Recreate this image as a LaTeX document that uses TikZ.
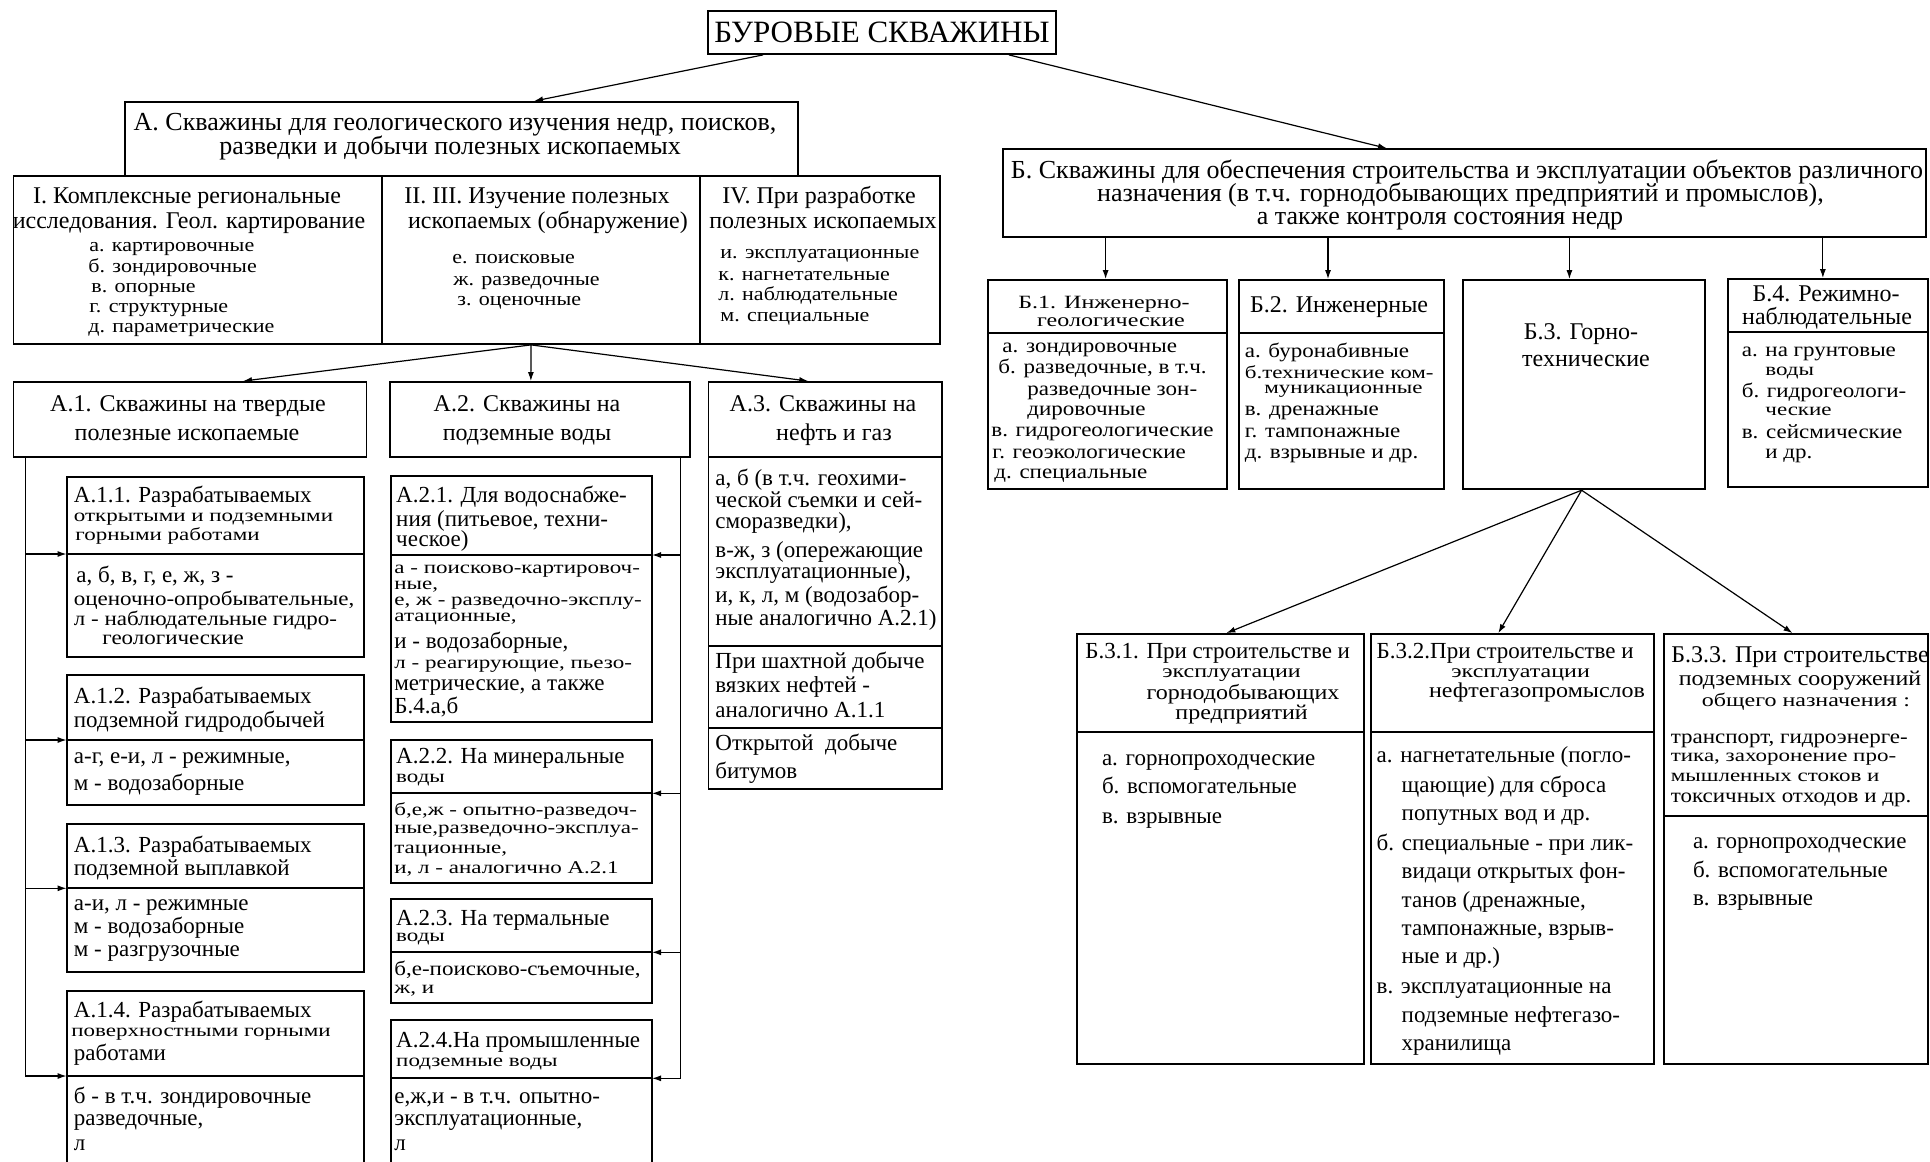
\documentclass[tikz,border=0pt]{standalone}
\usepackage{fontspec}
\usepackage{graphicx}
\setmainfont{Liberation Serif}
\usetikzlibrary{arrows.meta,fit,calc}
\tikzset{
 bx/.style={draw, line width=0.9pt, inner sep=0pt},
 ln/.style={line width=0.9pt},
 arr/.style={-{Latex[length=4.5pt,width=3pt]}, line width=0.6pt},
 ltxt/.style={anchor=base west, inner sep=0pt},
 ctxt/.style={anchor=base, inner sep=0pt},
 fbig/.style={font=\fontsize{13}{13}\selectfont},
 fhd/.style={font=\fontsize{12}{12}\selectfont},
 fbd/.style={font=\fontsize{11.5}{11.5}\selectfont},
 fsm/.style={font=\fontsize{11}{11}\selectfont},
}
\newcommand\sq[1]{\scalebox{1}[0.78]{#1}}
\newcommand\sqm[1]{\scalebox{1}[0.88]{#1}}
\newcommand\bx[5]{\path (#2,#3) coordinate (#1-nw) (#4,#5) coordinate (#1-se); \node[bx, fit=(#1-nw)(#1-se)] (#1) {};}
\newcommand\hl[3]{\draw[ln] (#1,#3) -- (#2,#3);}
\newcommand\Ltx[3][fbd]{\foreach \xx/\yy/\tx [count=\ii] in {#3} {\node[ltxt,#1,name=#2-\ii] at (\xx,\yy) {\tx};}}
\newcommand\Ctx[3][fhd]{\foreach \xx/\yy/\tx [count=\ii] in {#3} {\node[ctxt,#1,name=#2-\ii] at (\xx,\yy) {\tx};}}
\begin{document}
\begin{tikzpicture}[x=0.5pt,y=-0.5pt]
\useasboundingbox (0,0) rectangle (1930,1161);
\clip (0,0) rectangle (1930,1161);
% title
\bx{T}{708}{11}{1056}{54}
\node[ctxt,font=\fontsize{15.5}{16}\selectfont,name=Tt] at (882,43) {БУРОВЫЕ СКВАЖИНЫ};
% A
\bx{A}{125}{102}{798}{176}
\Ctx[fbig]{At}{455/130/{А. Скважины для геологического изучения недр, поисков,}, 450/155/{разведки и добычи полезных ископаемых}}
\bx{R1}{13.5}{176}{382}{344}
\bx{R2}{382}{176}{700}{344}
\bx{R4}{700}{176}{940}{344}
\Ctx{R1h}{187/203/{I. Комплексные региональные}, 189/228/{исследования. Геол. картирование}}
\Ltx[fsm]{R1l}{89/251/{\sqm{а. картировочные}}, 88/272/{\sqm{б. зондировочные}}, 91/292/{\sqm{в. опорные}}, 89/312/{\sqm{г. структурные}}, 88/332/{\sqm{д. параметрические}}}
\Ctx{R2h}{537/203/{II. III. Изучение полезных}, 548/228/{ископаемых (обнаружение)}}
\Ltx[fsm]{R2l}{452/263/{\sqm{е. поисковые}}, 453/285/{\sqm{ж. разведочные}}, 457/305/{\sqm{з. оценочные}}}
\Ctx{R4h}{819/203/{IV. При разработке}, 823/228/{полезных ископаемых}}
\Ltx[fsm]{R4l}{720/258/{\sqm{и. эксплуатационные}}, 718/280/{\sqm{к. нагнетательные}}, 718/300/{\sqm{л. наблюдательные}}, 720/321/{\sqm{м. специальные}}}
% A.1 A.2 A.3
\bx{A1}{13.5}{382}{366.5}{457}
\bx{A2}{390}{382}{689.7}{457}
\bx{A3}{708.5}{382}{942}{457}
\bx{A3b}{708.5}{457}{942}{789}
\hl{708.5}{942}{646}
\hl{708.5}{942}{728.3}
\Ctx{A1t}{188/411/{А.1. Скважины на твердые}, 187/440/{полезные ископаемые}}
\Ctx{A2t}{527/411/{А.2. Скважины на}, 527/440/{подземные воды}}
\Ctx{A3t}{823/411/{А.3. Скважины на}, 834/440/{нефть и газ}}
\Ltx{A3l}{715/485/{а, б (в т.ч. геохими-}, 715/507/{ческой съемки и сей-}, 715/528/{сморазведки),}, 715/557/{в-ж, з (опережающие}, 715/578/{эксплуатационные),}, 715/602/{и, к, л, м (водозабор-}, 715/625/{ные аналогично А.2.1)}, 715/668/{При шахтной добыче}, 715/692/{вязких нефтей -}, 715/717/{аналогично А.1.1}, 715/750/{Открытой\ \ добыче}, 715/778/{битумов}}
% A.1.x
\bx{A11}{66.6}{476.7}{364}{656.7} \hl{66.6}{364}{554}
\bx{A12}{66.6}{675}{364}{805} \hl{66.6}{364}{740}
\bx{A13}{66.6}{824}{364}{972.3} \hl{66.6}{364}{888.3}
\bx{A14}{66.6}{991}{364}{1175} \hl{66.6}{364}{1076}
\Ltx{A11t}{73.5/502/{А.1.1. Разрабатываемых}, 73.5/521/{\sq{открытыми и подземными}}, 75/540/{\sq{горными работами}}, 76/582/{а, б, в, г, е, ж, з -}, 73.5/605/{\sqm{оценочно-опробывательные,}}, 73.5/625/{\sqm{л - наблюдательные гидро-}}, 102/644/{\sqm{геологические}}}
\Ltx{A12t}{73.5/703/{А.1.2. Разрабатываемых}, 73.5/727/{подземной гидродобычей}, 73.5/763/{а-г, е-и, л - режимные,}, 73.5/790/{м - водозаборные}}
\Ltx{A13t}{73.5/852/{А.1.3. Разрабатываемых}, 73.5/875/{подземной выплавкой}, 73.5/910/{а-и, л - режимные}, 73.5/933/{м - водозаборные}, 73.5/956/{м - разгрузочные}}
\Ltx{A14t}{73.5/1017/{А.1.4. Разрабатываемых}, 71/1036/{\sq{поверхностными горными}}, 73.5/1060/{работами}, 73.5/1103/{б - в т.ч. зондировочные}, 73.5/1125/{разведочные,}, 73.5/1150/{л}}
% A.2.x
\bx{A21}{391}{476}{652}{721.7} \hl{391}{652}{555}
\bx{A22}{391}{740}{652}{883.3} \hl{391}{652}{793.3}
\bx{A23}{391}{899}{652}{1002.7} \hl{391}{652}{952.3}
\bx{A24}{391}{1020}{652}{1175} \hl{391}{652}{1078.3}
\Ltx{A21t}{395.8/502/{А.2.1. Для водоснабже-}, 395.8/526/{ния (питьевое, техни-}, 395.8/546/{ческое)}, 394/573/{\sq{а - поисково-картировоч-}}, 394/589/{\sq{ные,}}, 394/605/{\sq{е, ж - разведочно-эксплу-}}, 394/621/{\sq{атационные,}}, 394/648/{и - водозаборные,}, 394/668/{\sq{л - реагирующие, пьезо-}}, 394/690/{метрические, а также}, 394/713/{Б.4.а,б}}
\Ltx{A22t}{395.8/763/{А.2.2. На минеральные}, 395.8/782/{\sq{воды}}, 394/815/{\sq{б,е,ж - опытно-разведоч-}}, 394/833/{\sq{ные,разведочно-эксплуа-}}, 394/853/{\sq{тационные,}}, 394/873/{\sq{и, л - аналогично А.2.1}}}
\Ltx{A23t}{395.8/925/{А.2.3. На термальные}, 395.8/941/{\sq{воды}}, 394/975/{\sqm{б,е-поисково-съемочные,}}, 394/993/{\sq{ж, и}}}
\Ltx{A24t}{395.8/1047/{А.2.4.На промышленные}, 395.8/1066/{\sq{подземные воды}}, 394/1103/{е,ж,и - в т.ч. опытно-}, 394/1125/{эксплуатационные,}, 394/1150/{л}}
% B
\bx{B}{1003}{149.3}{1926}{236.7}
\Ctx[fbig]{Bt}{1467/178/{Б. Скважины для обеспечения строительства и эксплуатации объектов различного}, 1460.5/201/{назначения (в т.ч. горнодобывающих предприятий и промыслов),}, 1440/224/{а также контроля состояния недр}}
\bx{B1}{988}{280}{1226.6}{489.3} \hl{988}{1226.6}{333.3}
\bx{B2}{1239}{280}{1443.6}{489.3} \hl{1239}{1443.6}{333.3}
\bx{B3}{1462.6}{280}{1704.6}{489.3}
\bx{B4}{1728.3}{279}{1928}{487.3} \hl{1728.3}{1928}{331.7}
\Ctx{B1h}{1104/308/{\sq{Б.1. Инженерно-}}, 1111/326/{\sq{геологические}}}
\Ltx{B1l}{1002/352/{\sqm{а. зондировочные}}, 998/373/{\sqm{б. разведочные, в т.ч.}}, 1027/395/{\sqm{разведочные зон-}}, 1027/415/{\sqm{дировочные}}, 991/436/{\sqm{в. гидрогеологические}}, 992/458/{\sqm{г. геоэкологические}}, 994/478/{\sqm{д. специальные}}}
\Ctx{B2h}{1339/312/{Б.2. Инженерные}}
\Ltx{B2l}{1244.4/357/{\sqm{а. буронабивные}}, 1244.4/378/{\sq{б.технические ком-}}, 1264/393/{\sq{муникационные}}, 1244.4/415/{\sqm{в. дренажные}}, 1244.4/437/{\sqm{г. тампонажные}}, 1244.4/458/{\sqm{д. взрывные и др.}}}
\Ctx{B3h}{1581/339/{Б.3. Горно-}, 1586/366/{технические}}
\Ctx{B4h}{1826/301/{Б.4. Режимно-}, 1827/324/{наблюдательные}}
\Ltx{B4l}{1741.4/356/{\sqm{а. на грунтовые}}, 1765/375/{\sq{воды}}, 1741.4/397/{\sqm{б. гидрогеологи-}}, 1765/415/{\sq{ческие}}, 1741.4/438/{\sqm{в. сейсмические}}, 1765/458/{\sqm{и др.}}}
% B.3.x
\bx{B31}{1076.6}{634}{1364}{1064} \hl{1076.6}{1364}{731.7}
\bx{B32}{1370.8}{634}{1653.8}{1064} \hl{1370.8}{1653.8}{731.7}
\bx{B33}{1663.8}{634}{1928}{1064} \hl{1663.8}{1928}{816}
\Ltx{B31a}{1085/658/{Б.3.1. При строительстве и}}
\Ctx{B31b}{1231.5/677/{\sq{эксплуатации}}, 1243/699/{\sqm{горнодобывающих}}, 1241.6/719/{\sqm{предприятий}}}
\Ltx{B31l}{1101.6/765/{а. горнопроходческие}, 1101.6/793/{б. вспомогательные}, 1101.6/823/{в. взрывные}}
\Ltx{B32a}{1376.3/658/{Б.3.2.При строительстве и}}
\Ctx{B32b}{1520.6/677/{\sq{эксплуатации}}, 1537/697/{\sqm{нефтегазопромыслов}}}
\Ltx{B32l}{1376.3/762/{а. нагнетательные (погло-}, 1401.3/792/{щающие) для сброса}, 1401.3/820/{попутных вод и др.}, 1376.3/850/{б. специальные - при лик-}, 1401.3/878/{видаци открытых фон-}, 1401.3/907/{танов (дренажные,}, 1401.3/935/{тампонажные, взрыв-}, 1401.3/963/{ные и др.)}, 1376.3/993/{в. эксплуатационные на}, 1401.3/1022/{подземные нефтегазо-}, 1401.3/1050/{хранилища}}
\Ctx{B33h}{1800/662/{Б.3.3. При строительстве}, 1800/685/{\sqm{подземных сооружений}}, 1806/706/{\sq{общего назначения :}}}
\Ltx{B33l}{1670.4/743/{\sqm{транспорт, гидроэнерге-}}, 1670.4/761/{\sq{тика, захоронение про-}}, 1670.4/781/{\sq{мышленных стоков и}}, 1670.4/802/{\sqm{токсичных отходов и др.}}, 1692.6/848/{а. горнопроходческие}, 1692.6/877/{б. вспомогательные}, 1692.6/905/{в. взрывные}}
% connectors
\draw[arr] ($(T.south west)+(56,0)$) -- ($(A.north)+(72.5,0)$);
\draw[arr] ($(T.south east)+(-48,0)$) -- ($(B.north)+(-77.5,0)$);
\coordinate (R2o) at ($(R2.south)+(-10,0)$);
\draw[arr] (R2o) -- ($(A1.north)+(53,0)$);
\draw[arr] (R2o) -- ($(A2.north)+(-9,0)$);
\draw[arr] (R2o) -- ($(A3.north)+(-17,0)$);
\coordinate (A1sp) at ($(A1.south west)+(12.5,0)$);
\coordinate (A2sp) at ($(A2.south east)+(-10.2,0)$);
\foreach \nm/\yy in {A11/554, A12/740, A13/888.3, A14/1076} {
  \coordinate (\nm d) at (66.6,\yy);
  \draw[arr] (A1sp) |- (\nm d);
}
\foreach \nm/\yy in {A21/555, A22/793.3, A23/952.3, A24/1078.3} {
  \coordinate (\nm d) at (652,\yy);
  \draw[arr] (A2sp) |- (\nm d);
}
\foreach \nm/\dx in {B1/-1.7, B2/-13.3, B3/-14.2, B4/-5.3} {
  \coordinate (\nm top) at ($(\nm.north)+(\dx,0)$);
  \draw[arr] (B.south -| \nm top) -- (\nm top);
}
\coordinate (B3o) at ($(B3.south)+(-2,0)$);
\draw[arr] (B3o) -- ($(B31.north)+(6,0)$);
\draw[arr] (B3o) -- ($(B32.north)+(-14,0)$);
\draw[arr] (B3o) -- ($(B33.north)+(-3.4,0)$);
\end{tikzpicture}
\end{document}
